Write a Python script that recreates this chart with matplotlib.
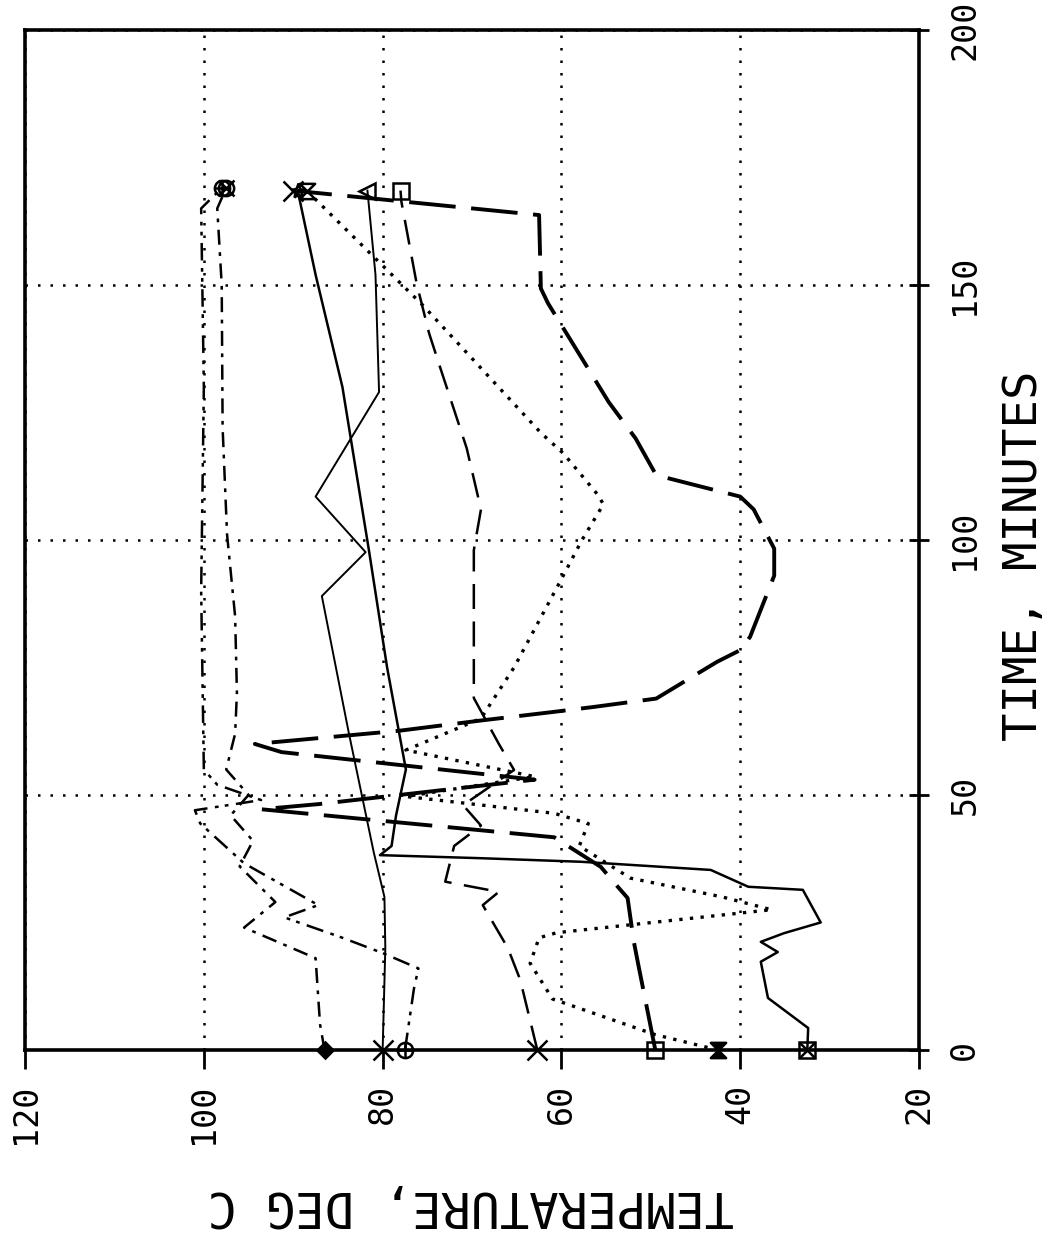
import matplotlib.pyplot as plt
from matplotlib.path import Path

# Temperature histories, time in minutes and temperature in deg C
t_s1 = [0, 5, 18, 24, 29, 36, 41, 46, 50, 55, 62, 70, 85, 101, 122, 150, 165, 169]
T_s1 = [86.5, 87, 87.5, 95.5, 92, 96, 94.5, 97, 95, 97.5, 96.5, 96.3, 96.5, 97.4, 97.9, 98, 98.5, 97.5]

t_s2 = [0, 20, 30, 38.8, 62.3, 89, 97.6, 108.5, 129, 152, 168.5]
T_s2 = [80, 79.7, 79.8, 81, 83.8, 86.8, 81.9, 87.5, 80.4, 80.8, 81.7]

t_s3 = [0, 12, 16, 19, 22, 26, 28.4, 36.6, 44.4, 47, 49, 52, 55, 90, 130, 165, 169]
T_s3 = [77.5, 76.5, 76, 80, 84.5, 91, 87.2, 95.5, 100.4, 101, 93.6, 98.5, 100, 100.3, 100, 100.3, 98]

t_s4 = [0, 13.7, 20, 28.4, 31, 33, 40, 44, 48, 54.9, 60, 69, 98, 106, 118, 134, 140.5, 150.3, 166.3, 168.5]
T_s4 = [62.7, 64.6, 66, 68.8, 67, 73, 72, 69, 71, 65.3, 67, 69.8, 69.8, 69, 70.6, 73.6, 74.8, 76.2, 77.9, 78]

t_s5 = [0, 16.7, 21.2, 29.8, 32, 35.9, 41.7, 47.2, 48.2, 53, 58.4, 60, 62.6, 64.6, 66.3, 67.3, 68.9,
        76.1, 78.4, 81, 93, 98.3, 106, 108.5, 112.7, 119.9, 127, 146.4, 149.3, 163.7, 168.5]
T_s5 = [49.5, 51.4, 51.9, 52.6, 53.7, 55.6, 60.8, 93.6, 87.2, 63, 91.3, 94.3, 78.1, 69, 60.8, 56.2, 49.4,
        42.6, 40, 38.9, 36.2, 36.2, 38.5, 40, 49.4, 51.7, 54.7, 61.5, 62.3, 62.5, 90]

t_s6 = [0, 3, 10, 17, 22, 23, 27.5, 30, 33.7, 40, 44.4, 46.4, 49.7, 53.6, 58.8, 65, 75, 92,
        100, 107, 109, 117, 121, 146, 168.5]
T_s6 = [42.5, 49.5, 61, 63.5, 62.5, 60.5, 36.5, 42, 52.3, 58, 57, 60.8, 77.4, 63, 77.4, 69, 65.3, 60.1,
        57.7, 55.3, 56, 59.8, 62.3, 75.5, 88.5]

t_s7 = [0, 4.3, 10.2, 17.3, 19.2, 21.2, 22.9, 25, 31.4, 32, 35.3, 36.9, 37.6, 38.2, 40, 46, 55, 75,
        97.6, 130, 152, 168.5]
T_s7 = [32.5, 32.4, 36.9, 37.7, 35.8, 37.7, 35.1, 31, 33, 39.1, 43.3, 57.8, 69, 80.3, 79, 78.5, 77.4, 79.5,
        81.5, 84.5, 87.5, 89.5]

temp_ticks = [120, 100, 80, 60, 40, 20]
time_ticks = [0, 50, 100, 150, 200]

# hourglass marker
hourglass = Path([(-1, -1), (1, -1), (-1, 1), (1, 1), (-1, -1)],
                 [Path.MOVETO, Path.LINETO, Path.LINETO, Path.LINETO, Path.CLOSEPOLY])

mono = 'DejaVu Sans Mono'

fig = plt.figure(figsize=(10.61, 12.47), dpi=100)
ax = fig.add_axes([0.0236, 0.158, 0.8426, 0.818])

series = [
    (T_s1, t_s1, dict(ls=(0, (6, 3, 1.5, 3)), lw=1.8)),
    (T_s2, t_s2, dict(ls='-', lw=1.4)),
    (T_s3, t_s3, dict(ls=(0, (7, 3, 1.5, 2.5, 1.5, 3)), lw=1.8)),
    (T_s4, t_s4, dict(ls=(0, (10, 5)), lw=1.8)),
    (T_s5, t_s5, dict(ls=(0, (12, 4)), lw=2.8)),
    (T_s6, t_s6, dict(ls=(0, (1, 2.2)), lw=2.4)),
    (T_s7, t_s7, dict(ls='-', lw=1.8)),
]
for T, t, st in series:
    ax.plot(T, t, color='black', **st)

mk = dict(color='black', ls='none', ms=11, mew=1.8, mfc='none', zorder=5, clip_on=False)
# markers at first and last reading of each run
ax.plot(T_s1[0], t_s1[0], marker='D', **{**mk, 'mfc': 'black', 'ms': 8})
ax.plot(T_s1[-1], t_s1[-1], marker='o', **mk)
ax.plot(T_s1[-1], t_s1[-1], marker='x', **mk)
ax.plot(T_s2[0], t_s2[0], marker='x', **{**mk, 'ms': 14})
ax.plot(T_s2[-1], t_s2[-1], marker='<', **mk)
ax.plot(T_s3[0], t_s3[0], marker='o', **mk)
ax.plot(T_s3[0], t_s3[0], marker='+', **mk)
ax.plot(T_s3[-1], t_s3[-1], marker='o', **mk)
ax.plot(T_s3[-1], t_s3[-1], marker='+', **mk)
ax.plot(T_s4[0], t_s4[0], marker='x', **{**mk, 'ms': 14})
ax.plot(T_s4[-1], t_s4[-1], marker='s', **mk)
ax.plot(T_s5[0], t_s5[0], marker='s', **mk)
ax.plot(T_s5[-1], t_s5[-1], marker='x', **{**mk, 'ms': 14})
ax.plot(T_s6[0], t_s6[0], marker=hourglass, **{**mk, 'mfc': 'black'})
ax.plot(T_s6[-1], t_s6[-1], marker=hourglass, **mk)
ax.plot(T_s7[0], t_s7[0], marker='s', **mk)
ax.plot(T_s7[0], t_s7[0], marker='x', **mk)
ax.plot(T_s7[-1], t_s7[-1], marker='*', **mk)

ax.set_xlim(120, 20)
ax.set_ylim(0, 200)
ax.set_xticks(temp_ticks)
ax.set_yticks(time_ticks)
ax.yaxis.tick_right()
ax.yaxis.set_label_position('right')

ax.grid(True, color='black', ls=(0, (1, 4)), lw=1.8)
for s in ax.spines.values():
    s.set_linewidth(2.6)

ax.tick_params(axis='x', direction='out', length=14, width=2, pad=10)
ax.tick_params(axis='y', direction='inout', length=14, width=2, pad=14)
ax.set_xticklabels([str(v) for v in temp_ticks], rotation=90, fontsize=24, family=mono, va='top', ha='center')
ax.set_yticklabels([str(v) for v in time_ticks], rotation=90, fontsize=24, family=mono, va='center', ha='left')

ax.set_xlabel('TEMPERATURE, DEG C', rotation=180, fontsize=35, family=mono, va='center', ha='center')
ax.xaxis.set_label_coords(0.498, -0.152)
ax.set_ylabel('TIME, MINUTES', rotation=90, fontsize=34, family=mono, va='center', ha='center')
ax.yaxis.set_label_coords(1.118, 0.485)

plt.savefig('out.png', dpi=100)
